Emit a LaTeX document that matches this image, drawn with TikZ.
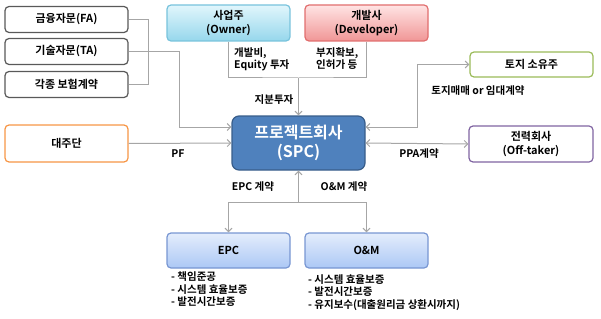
\documentclass[tikz,border=0pt]{standalone}
\usepackage{fontspec}
\setmainfont{Noto Sans CJK KR}[BoldFont={Noto Sans CJK KR Bold}]
\definecolor{BoxGray}{RGB}{89,89,89}
\definecolor{LineGray}{RGB}{166,166,166}
\definecolor{OwnerTop}{RGB}{225,246,252}
\definecolor{OwnerBot}{RGB}{150,215,236}
\definecolor{OwnerEdge}{RGB}{120,195,220}
\definecolor{DevTop}{RGB}{255,228,228}
\definecolor{DevBot}{RGB}{240,150,150}
\definecolor{DevEdge}{RGB}{225,110,110}
\definecolor{SpcBlue}{RGB}{79,129,189}
\definecolor{SpcEdge}{RGB}{56,93,138}
\definecolor{ConTop}{RGB}{228,237,252}
\definecolor{ConBot}{RGB}{172,200,245}
\definecolor{ConEdge}{RGB}{120,150,210}
\definecolor{LendOrange}{RGB}{247,150,70}
\definecolor{LandGreen}{RGB}{155,187,89}
\definecolor{OffPurple}{RGB}{128,100,162}
\usetikzlibrary{arrows.meta,positioning,calc}
\tikzset{
  box/.style={draw=BoxGray, line width=1.2pt, rounded corners=4pt, fill=white,
    minimum width=123pt, minimum height=26pt, align=center, inner sep=1pt,
    font=\fontsize{11}{13.5}\selectfont\bfseries},
  line/.style={draw=LineGray, line width=1pt},
  arr/.style={line, -{Straight Barb[length=3.5pt,width=7pt]}},
  both/.style={line, {Straight Barb[length=3.5pt,width=7pt]}-{Straight Barb[length=3.5pt,width=7pt]}},
  lbl/.style={font=\fontsize{10.5}{12.5}\selectfont\bfseries, inner sep=0pt, align=left},
}
\begin{document}
\begin{tikzpicture}[x=1pt,y=-1pt]
  \useasboundingbox (0,0) rectangle (601,318);
  % advisors
  \node[box] (fa) at (66.5,19.5) {금융자문(FA)};
  \node[box] (ta) at (66.5,51.5) {기술자문(TA)};
  \node[box] (ins) at (66.5,84.5) {각종 보험계약};
  % sponsors
  \node[box, draw=OwnerEdge, top color=OwnerTop, bottom color=OwnerBot, minimum height=36pt] (owner) at (228.5,23) {사업주\\(Owner)};
  \node[box, draw=DevEdge, top color=DevTop, bottom color=DevBot, minimum height=36pt] (dev) at (366.5,23) {개발사\\(Developer)};
  \node[box, draw=LandGreen, minimum height=25pt] (land) at (531.5,64.5) {토지 소유주};
  \node[box, draw=LendOrange, minimum height=37pt] (lender) at (66.5,143.5) {대주단};
  % project company
  \node[box, draw=SpcEdge, fill=SpcBlue, text=white, minimum width=133pt, minimum height=54pt,
    rounded corners=7pt, font=\fontsize{16}{19}\selectfont\bfseries] (spc) at (298.5,143) {프로젝트회사\\(SPC)};
  \node[box, draw=OffPurple, minimum width=124pt, minimum height=36pt] (off) at (531,144) {전력회사\\(Off-taker)};
  % contractors
  \node[box, draw=ConEdge, top color=ConTop, bottom color=ConBot, minimum height=35pt] (epc) at (228.5,250.5) {EPC};
  \node[box, draw=ConEdge, top color=ConTop, bottom color=ConBot, minimum height=35pt] (om) at (366.5,250.5) {O\&M};

  % connectors
  \draw[line] (fa.east) -- ++(20,0) |- (ins.east);
  \draw[arr] (ta.east) -| ($(spc.west)+(-52,-16)$) -- ($(spc.west)+(0,-16)$);
  \coordinate (eq) at (298.5,78);
  \draw[line] (owner.south) |- (eq) -| (dev.south);
  \draw[arr] (eq) -- (spc.north);
  \draw[both] ($(spc.east)+(0,-16)$) -| ($(land.west)+(-52,0)$) -- (land.west);
  \draw[arr] (lender.east) -- (spc.west);
  \draw[both] (spc.east) -- (off.west);
  \coordinate (split) at (298.5,202);
  \draw[arr] (split) -- (spc.south);
  \draw[arr] (split) -| (epc.north);
  \draw[arr] (split) -| (om.north);

  % labels
  \node[lbl, anchor=north west] (lcost) at (234,47) {개발비,\\Equity 투자};
  \node[lbl, anchor=north west] (lsite) at (316,47) {부지확보,\\인허가 등};
  \node[lbl] (lequity) at (274,100) {지분투자};
  \node[lbl] (lland) at (478,91) {토지매매 or 임대계약};
  \node[lbl] (lpf) at (178,154) {PF};
  \node[lbl] (lppa) at (419,154) {PPA계약};
  \node[lbl] (lepc) at (253,187) {EPC 계약};
  \node[lbl] (lom) at (344,187) {O\&M 계약};
  \node[lbl, anchor=north west] (epclist) at (171,272) {- 책임준공\\- 시스템 효율보증\\- 발전시간보증};
  \node[lbl, anchor=north west] (omlist) at (308,274) {- 시스템 효율보증\\- 발전시간보증\\- 유지보수(대출원리금 상환시까지)};
\end{tikzpicture}
\end{document}
